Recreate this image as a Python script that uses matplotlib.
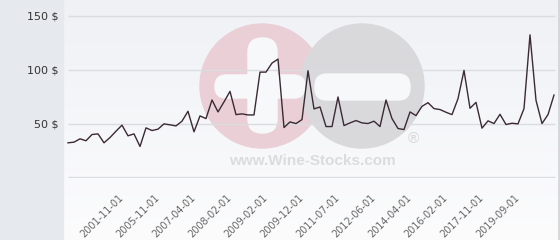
import matplotlib.pyplot as plt
import numpy as np
from matplotlib.patches import Circle, FancyBboxPatch, Rectangle

# prices, one per sale (evenly spaced on the x axis)
prices = [32.1, 32.7, 35.8, 34.0, 39.8, 40.4, 32.1, 37.0, 42.9, 48.5,
          38.6, 40.4, 28.7, 46.0, 43.5, 44.8, 49.7, 48.8, 47.8, 52.2,
          61.4, 42.3, 57.1, 54.6, 71.9, 60.8, 70.1, 79.9, 58.3, 59.0,
          58.0, 58.0, 97.8, 97.8, 106.2, 109.9, 46.3, 51.5, 50.0, 53.7,
          99.1, 63.6, 65.4, 47.2, 47.2, 74.7, 48.1, 50.6, 52.8, 50.6,
          50.0, 52.2, 47.2, 71.9, 54.6, 45.4, 44.4, 60.8, 57.4, 66.0,
          69.4, 63.9, 63.0, 60.5, 58.3, 73.1, 99.4, 64.2, 69.7, 45.7,
          52.5, 50.0, 58.6, 49.1, 50.3, 49.7, 63.9, 132.4, 71.6, 50.0,
          58.3, 76.5]
tick_idx = [9, 15, 21, 27, 33, 39, 45, 51, 57, 63, 69, 75]
tick_labels = ['2001-11-01', '2005-11-01', '2007-04-01', '2008-02-01',
               '2009-02-01', '2009-12-01', '2011-07-01', '2012-06-01',
               '2014-04-01', '2016-02-01', '2017-11-01', '2019-09-01']
y_ticks = [50, 100, 150]

W, H = 560, 240
fig = plt.figure(figsize=(W / 100, H / 100), dpi=100)
fig.patch.set_facecolor('#fafbfc')

# background axes in pixel units (gradient + watermark)
bg = fig.add_axes([0, 0, 1, 1])
bg.set_xlim(0, W)
bg.set_ylim(H, 0)
bg.axis('off')
grad = np.linspace(0, 1, 256).reshape(-1, 1)
bg.imshow(grad, cmap=plt.matplotlib.colors.LinearSegmentedColormap.from_list(
    'g', ['#eff1f5', '#fcfcfd']), extent=[63, W, H, 0], aspect='auto', zorder=0)
bg.add_patch(Rectangle((0, 0), 63, H, color='#e6eaee', zorder=1))
bg.plot([558.5, 558.5], [0, H], color='#cfd2d6', lw=1.2, zorder=1)

bg.add_patch(Circle((262, 86), 62, color='#eacfd6', zorder=2))
bg.add_patch(Circle((362, 86), 62, color='#d9d9db', zorder=3))
bar_col = '#f7f8fa'
bg.add_patch(FancyBboxPatch((248 + 14, 38 + 14), 1, 95 - 28, boxstyle='round,pad=14',
                            color=bar_col, zorder=4))
bg.add_patch(FancyBboxPatch((215 + 11, 75 + 11), 90 - 22, 1, boxstyle='round,pad=11',
                            color=bar_col, zorder=4))
bg.add_patch(FancyBboxPatch((315 + 12, 74 + 12), 95 - 24, 2, boxstyle='round,pad=12',
                            color=bar_col, zorder=4))
bg.text(312, 161, 'www.Wine-Stocks.com', ha='center', va='center', fontsize=11,
        fontweight='bold', family='Liberation Sans', color='#dcdcdc', zorder=4)
bg.text(413, 139, '®', ha='center', va='center', fontsize=11,
        family='Liberation Sans', color='#d6d6d6', zorder=4)

# main chart
ax = fig.add_axes([63 / W, (H - 178) / H, (W - 63) / W, 178 / H])
ax.patch.set_alpha(0)
x = np.arange(len(prices))
ax.set_xlim(-5 / 6, 82)
ax.set_ylim(-0.6, 178 / 1.08)
ax.hlines([0] + y_ticks, 0, 81.2, color='#dadcdf', lw=1, zorder=1)
ax.plot(x, prices, color='#3b2a33', lw=1, zorder=3)

for s in ax.spines.values():
    s.set_visible(False)
ax.set_yticks(y_ticks)
ax.set_yticklabels([f'{v} $' for v in y_ticks], fontsize=8, color='#333333')
ax.tick_params(axis='y', length=0, pad=3)
ax.set_xticks(tick_idx)
ax.set_xticklabels(tick_labels, rotation=45, ha='right', va='center',
                   rotation_mode='anchor', fontsize=7, color='#666666')
ax.tick_params(axis='x', length=0, pad=13)

fig.savefig('out.png', dpi=100)
